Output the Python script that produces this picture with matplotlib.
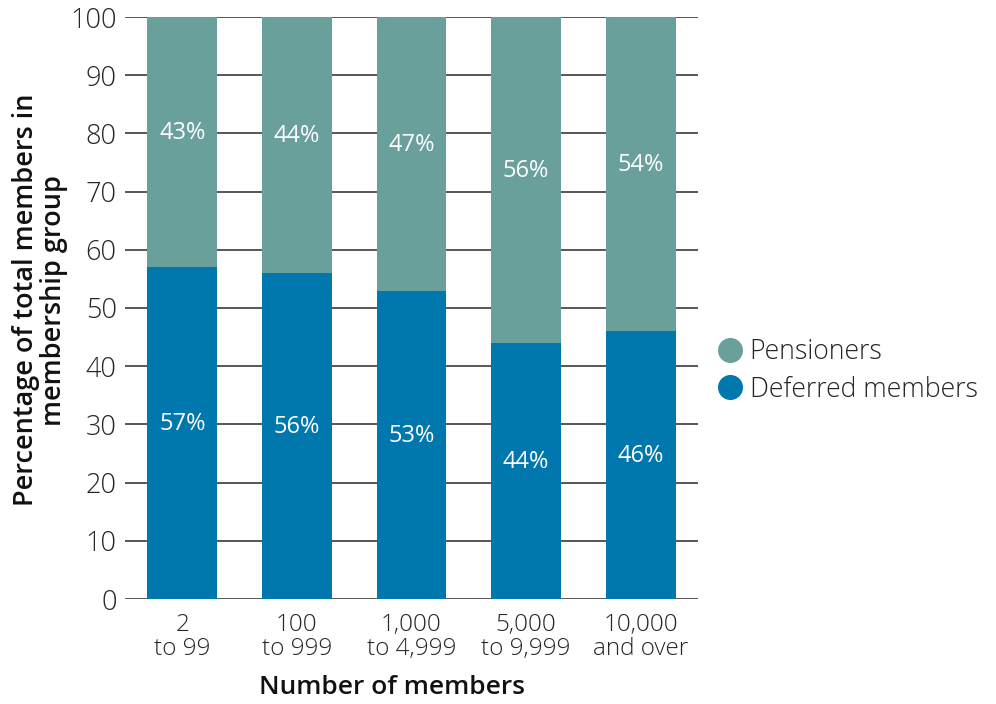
import matplotlib
matplotlib.use("Agg")
import matplotlib.pyplot as plt
from matplotlib.lines import Line2D
import numpy as np

plt.rcParams['font.family'] = ['Open Sans', 'DejaVu Sans']

categories = ["2\nto 99", "100\nto 999", "1,000\nto 4,999", "5,000\nto 9,999", "10,000\nand over"]
deferred = [57, 56, 53, 44, 46]
pensioners = [43, 44, 47, 56, 54]

col_pens = "#6aa09c"
col_def = "#0077ad"
txt = "#262626"

fig = plt.figure(figsize=(9.96, 7.04), dpi=100)
ax = fig.add_axes([125 / 996, 1 - 599 / 704, 573 / 996, 582 / 704])

x = np.arange(len(categories))
w = 0.61
ax.bar(x, deferred, width=w, color=col_def, zorder=2)
ax.bar(x, pensioners, width=w, bottom=deferred, color=col_pens, zorder=2)

for xi, d, p in zip(x, deferred, pensioners):
    ax.text(xi, d / 2 + 1.5, f"{d}%", ha="center", va="center", color="white", fontsize=17)
    ax.text(xi, d + p / 2 + 1.5, f"{p}%", ha="center", va="center", color="white", fontsize=17)

ax.set_xlim(-0.5, len(categories) - 0.5)
ax.set_ylim(0, 100)
ax.set_yticks(np.arange(0, 101, 10))
ax.yaxis.grid(True, color="#2a2a2a", linewidth=1.1, zorder=1)
ax.set_axisbelow(True)
for s in ax.spines.values():
    s.set_visible(False)
ax.tick_params(axis="y", length=0, pad=6, labelsize=19.5, labelcolor=txt)
ax.tick_params(axis="x", length=0, pad=10, labelsize=17.5, labelcolor=txt)
ax.set_xticks(x)
ax.set_xticklabels(categories, linespacing=1.0)
for lab in ax.get_xticklabels() + ax.get_yticklabels():
    lab.set_fontweight("light")

ax.set_xlabel("Number of members", fontsize=19, fontweight="semibold", color="#111111",
              va="center")
ax.xaxis.set_label_coords((392 - 125) / 573, (599 - 688) / 582)
ax.set_ylabel("Percentage of total members in\nmembership group", fontsize=19.5,
              fontweight="semibold", linespacing=1.0, color="#111111", va="center")
ax.yaxis.set_label_coords((40 - 125) / 573, (599 - 300) / 582)

handles = [
    Line2D([], [], marker="o", linestyle="", markersize=17, color=col_pens, label="Pensioners"),
    Line2D([], [], marker="o", linestyle="", markersize=17, color=col_def, label="Deferred members"),
]
leg = fig.legend(handles=handles, loc="center left", bbox_to_anchor=(707 / 996, 1 - 371 / 704),
                 frameon=False, fontsize=19.2, handlelength=0.95, handletextpad=0.25,
                 labelspacing=0.35, borderaxespad=0, labelcolor=txt)
for t in leg.get_texts():
    t.set_fontweight("light")

fig.savefig("out.png", dpi=100)
